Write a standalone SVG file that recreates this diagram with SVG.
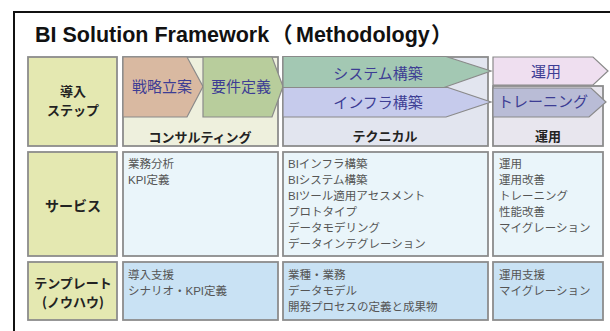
<svg xmlns="http://www.w3.org/2000/svg" width="610" height="331" viewBox="0 0 610 331">
<style>
.frame{fill:none;stroke:#111;stroke-width:2}
.box{stroke:#8c8c8c;stroke-width:1.8}
.arr{stroke:#8a8a8a;stroke-width:1.2}
.lab{fill:#e4e8b1}
.hd{font-family:"Noto Sans CJK JP",sans-serif;font-weight:bold;font-size:13px;fill:#222;text-anchor:middle}
.al{font-family:"Noto Sans CJK JP",sans-serif;font-size:15px;fill:#3d3d94;text-anchor:middle}
.tx{font-family:"Liberation Sans","Noto Sans CJK JP",sans-serif;font-size:11.5px;fill:#555}
.title{font-family:"Liberation Sans","Noto Sans CJK JP",sans-serif;font-weight:bold;font-size:21.5px;fill:#111}
</style>
<rect width="610" height="331" fill="#ffffff"/>
<path class="frame" d="M14 331V12H610"/>
<text class="title" x="35" y="42">BI Solution Framework<tspan x="271">（</tspan><tspan x="296">Methodology</tspan><tspan x="431">）</tspan></text>

<g id="row1-label">
<rect class="box lab" x="28" y="57" width="89" height="89"/>
<text class="hd" x="73" y="96">導入</text>
<text class="hd" x="73" y="114.5">ステップ</text>
</g>

<g id="consulting">
<rect class="box" x="123" y="57" width="155" height="89" fill="#eef0dd"/>
<polygon id="senryaku" class="arr" points="123,57 187,57 203,86.5 187,117 123,117" fill="#d9b9a1"/>
<polygon id="youken" class="arr" points="203,57 272,57 283,86.5 272,117 203,117" fill="#b8cd9c"/>
<text class="al" x="162" y="92">戦略立案</text>
<text class="al" x="241" y="92">要件定義</text>
<text class="hd" x="200" y="142">コンサルティング</text>
</g>

<g id="technical">
<rect class="box" x="283" y="57" width="205" height="89" fill="#e2e5ef"/>
<polygon id="infra" class="arr" points="283,87.5 448,87.5 491,102 446,117 283,117" fill="#c6cbec"/>
<polygon id="system" class="arr" points="283,56.5 446,56.5 491,71 444,87.5 283,87.5" fill="#a3c8b3"/>
<text class="al" x="378" y="79">システム構築</text>
<text class="al" x="378" y="108">インフラ構築</text>
<text class="hd" x="385" y="141">テクニカル</text>
</g>

<g id="operation">
<rect class="box" x="493" y="86" width="110" height="60" fill="#e8e6ee"/>
<polygon id="unyou" class="arr" points="493,57 593,57 608,71 593,85 493,85" fill="#efdff0"/>
<polygon id="training" class="arr" points="493,88 591,88 606,102 589,117 493,117" fill="#b9bcd6"/>
<text class="al" x="546" y="77">運用</text>
<text class="al" x="543" y="107">トレーニング</text>
<text class="hd" x="548" y="141">運用</text>
</g>

<g id="row2-label">
<rect class="box lab" x="28" y="152" width="89" height="104"/>
<text class="hd" x="73" y="211" style="font-size:14px">サービス</text>
</g>
<g id="service-consulting">
<rect class="box" x="123" y="152" width="155" height="104" fill="#eaf5fa"/>
<text class="tx" x="128" y="168">業務分析</text>
<text class="tx" x="128" y="184">KPI定義</text>
</g>
<g id="service-technical">
<rect class="box" x="283" y="152" width="205" height="104" fill="#eaf5fa"/>
<text class="tx" x="288" y="168">BIインフラ構築</text>
<text class="tx" x="288" y="184">BIシステム構築</text>
<text class="tx" x="288" y="200">BIツール適用アセスメント</text>
<text class="tx" x="288" y="216">プロトタイプ</text>
<text class="tx" x="288" y="232">データモデリング</text>
<text class="tx" x="288" y="248">データインテグレーション</text>
</g>
<g id="service-operation">
<rect class="box" x="493" y="152" width="110" height="104" fill="#eaf5fa"/>
<text class="tx" x="499" y="168">運用</text>
<text class="tx" x="499" y="184">運用改善</text>
<text class="tx" x="499" y="200">トレーニング</text>
<text class="tx" x="499" y="216">性能改善</text>
<text class="tx" x="499" y="232">マイグレーション</text>
</g>

<g id="row3-label">
<rect class="box lab" x="28" y="262" width="89" height="58"/>
<text class="hd" x="73" y="288">テンプレート</text>
<text class="hd" x="73" y="306.5">(ノウハウ)</text>
</g>
<g id="template-consulting">
<rect class="box" x="123" y="262" width="155" height="58" fill="#c9e2f4"/>
<text class="tx" x="128" y="279">導入支援</text>
<text class="tx" x="128" y="295">シナリオ・KPI定義</text>
</g>
<g id="template-technical">
<rect class="box" x="283" y="262" width="205" height="58" fill="#c9e2f4"/>
<text class="tx" x="288" y="279">業種・業務</text>
<text class="tx" x="288" y="295">データモデル</text>
<text class="tx" x="288" y="311">開発プロセスの定義と成果物</text>
</g>
<g id="template-operation">
<rect class="box" x="493" y="262" width="110" height="58" fill="#c9e2f4"/>
<text class="tx" x="499" y="279">運用支援</text>
<text class="tx" x="499" y="295">マイグレーション</text>
</g>
<g id="connectors"></g>
</svg>
